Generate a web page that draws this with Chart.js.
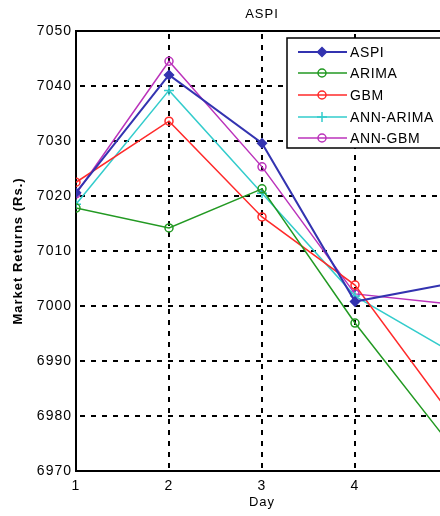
<!DOCTYPE html>
<html>
<head>
<meta charset="utf-8">
<script src="https://cdn.jsdelivr.net/npm/chart.js@4/dist/chart.umd.min.js"></script>
<style>
html,body{margin:0;padding:0;overflow:hidden;background:#fff;}
#wrap{position:relative;width:460px;height:516px;}
</style>
</head>
<body>
<div id="wrap"><canvas id="c"></canvas></div>
<script>
const days = [1, 2, 3, 4, 5];
const aspi     = [7020.6, 7042.0, 7029.6, 7000.8, 7004.0];
const arima    = [7017.8, 7014.2, 7021.3, 6996.9, 6975.3];
const gbm      = [7022.5, 7033.6, 7016.2, 7003.8, 6980.9];
const annArima = [7018.5, 7039.2, 7020.5, 7001.8, 6992.0];
const annGbm   = [7020.4, 7044.5, 7025.3, 7002.2, 7000.4];
const yTicks = [6970, 6980, 6990, 7000, 7010, 7020, 7030, 7040, 7050];
const xTicks = [1, 2, 3, 4, 5];
const seriesNames = ['ASPI', 'ARIMA', 'GBM', 'ANN-ARIMA', 'ANN-GBM'];

const FONT = '"Liberation Sans", Arial, sans-serif';
function pts(arr){ return days.map((d,i)=>({x:d, y:arr[i]})); }
function ds(label, data, color, style, width, fill, radius){
  return {label, data: pts(data), borderColor: color, backgroundColor: fill,
    pointBorderColor: color, pointBackgroundColor: fill, pointStyle: style,
    pointRadius: radius, pointBorderWidth: 1.5, borderWidth: width, tension: 0};
}
const datasets = [
  ds(seriesNames[0], aspi, '#3333b0', 'rectRot', 2, '#3333b0', 4.5),
  ds(seriesNames[1], arima, '#229922', 'circle', 1.5, 'rgba(0,0,0,0)', 4),
  ds(seriesNames[2], gbm, '#ff2a2a', 'circle', 1.5, 'rgba(0,0,0,0)', 4),
  ds(seriesNames[3], annArima, '#33cccc', 'cross', 1.5, 'rgba(0,0,0,0)', 5),
  ds(seriesNames[4], annGbm, '#bb33bb', 'circle', 1.5, 'rgba(0,0,0,0)', 4)
];

const extras = {
  id: 'extras',
  beforeDraw(chart){ chart.ctx.letterSpacing = '1px'; },
  beforeDatasetsDraw(chart){
    const {ctx, chartArea:a} = chart;
    ctx.save();
    ctx.strokeStyle = '#000'; ctx.lineWidth = 2;
    ctx.beginPath(); ctx.moveTo(a.left, a.top); ctx.lineTo(a.right, a.top); ctx.stroke();
    ctx.restore();
  },
  afterDraw(chart){
    const ctx = chart.ctx;
    ctx.save();
    ctx.fillStyle = '#000';
    ctx.font = '13px ' + FONT;
    ctx.textAlign = 'center'; ctx.textBaseline = 'middle';
    ctx.fillText('ASPI', 262, 14);
    // legend
    const bx = 287, by = 38, bw = 165, bh = 110;
    ctx.fillStyle = '#fff';
    ctx.fillRect(bx, by, bw, bh);
    ctx.strokeStyle = '#000'; ctx.lineWidth = 1.5;
    ctx.strokeRect(bx, by, bw, bh);
    const rows = [52, 73, 95, 117, 138];
    chart.data.datasets.forEach((d, i) => {
      const y = rows[i];
      ctx.strokeStyle = d.borderColor; ctx.lineWidth = d.borderWidth;
      ctx.beginPath(); ctx.moveTo(298, y); ctx.lineTo(347, y); ctx.stroke();
      ctx.fillStyle = d.pointBackgroundColor; ctx.strokeStyle = d.pointBorderColor;
      ctx.lineWidth = 1.5;
      Chart.helpers.drawPoint(ctx, {pointStyle: d.pointStyle, radius: d.pointRadius, rotation: 0, borderWidth: 1.5}, 322, y);
      ctx.fillStyle = '#000';
      ctx.font = '14px ' + FONT;
      ctx.letterSpacing = '0.6px';
      ctx.textAlign = 'left'; ctx.textBaseline = 'middle';
      ctx.fillText(d.label, 350, y + 1);
    });
    ctx.restore();
  }
};

new Chart(document.getElementById('c'), {
  type: 'line',
  data: { datasets },
  options: {
    responsive: true, maintainAspectRatio: false, animation: false,
    layout: { padding: { top: 31, right: 12, left: 0, bottom: 0 } },
    plugins: { legend: { display: false }, tooltip: { enabled: false }, title: { display: false } },
    scales: {
      x: {
        type: 'linear', min: 1, max: 5,
        afterBuildTicks(s){ s.ticks = xTicks.map(v => ({value: v})); },
        afterFit(s){ s.height = 45; },
        ticks: { color: '#000', padding: 7, font: { family: FONT, size: 14 }, callback: v => String(v), maxRotation: 0 },
        grid: { color: '#000', lineWidth: 2, drawTicks: false },
        border: { color: '#000', width: 2, dash: [5, 6], dashOffset: -3 },
        title: { display: true, text: 'Day', color: '#000', font: { family: FONT, size: 13 }, padding: { top: 0, bottom: 6 } }
      },
      y: {
        min: 6970, max: 7050,
        afterBuildTicks(s){ s.ticks = yTicks.map(v => ({value: v})); },
        afterFit(s){ s.width = 76; },
        ticks: { color: '#000', padding: 4, font: { family: FONT, size: 14 }, callback: v => String(v) },
        grid: { color: '#000', lineWidth: 2, drawTicks: false },
        border: { color: '#000', width: 2, dash: [5, 6], dashOffset: -3 },
        title: { display: true, text: 'Market Returns (Rs.)', color: '#000', font: { family: FONT, size: 13, weight: 'bold' }, padding: { top: 11, bottom: 0 } }
      }
    }
  },
  plugins: [extras]
});
</script>
</body>
</html>
